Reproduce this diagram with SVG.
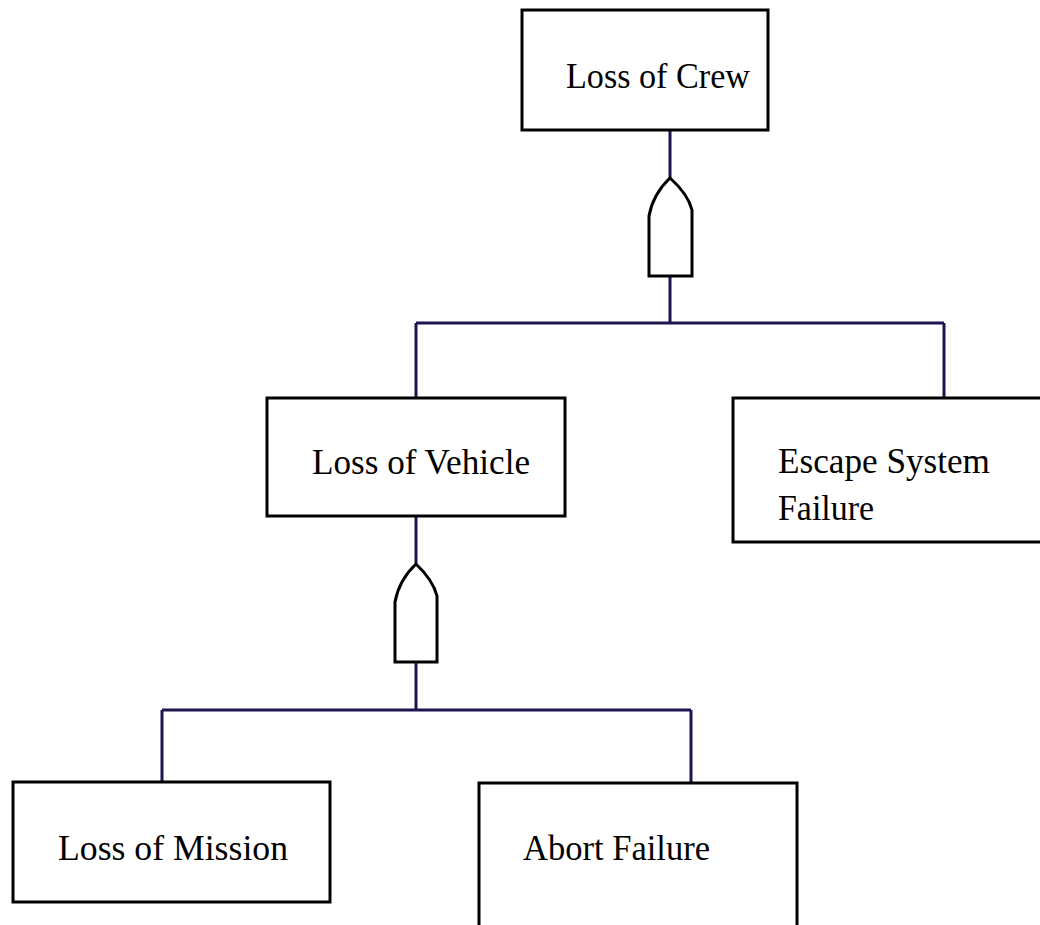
<svg xmlns="http://www.w3.org/2000/svg" width="1040" height="925" viewBox="0 0 1040 925">
  <style>
    .box { fill: #ffffff; stroke: #000000; stroke-width: 3; }
    .gate { fill: #ffffff; stroke: #000000; stroke-width: 3; stroke-linejoin: miter; }
    .wire { fill: none; stroke: #1c1650; stroke-width: 3; }
    .lbl { font-family: "Liberation Serif", "Times New Roman", serif; font-size: 35px; fill: #000000; }
  </style>
  <rect width="1040" height="925" fill="#ffffff"/>

  <!-- connectors -->
  <g id="connectors">
    <path class="wire" d="M670,130 V178"/>
    <path class="wire" d="M670,276 V323"/>
    <path class="wire" d="M416,323 H944"/>
    <path class="wire" d="M416,323 V398"/>
    <path class="wire" d="M944,323 V398"/>
    <path class="wire" d="M416,516 V563"/>
    <path class="wire" d="M416,662 V710"/>
    <path class="wire" d="M162,710 H691"/>
    <path class="wire" d="M162,710 V782"/>
    <path class="wire" d="M691,710 V783"/>
  </g>

  <!-- OR gates -->
  <g id="gate-crew">
    <path class="gate" d="M649,276 V216 Q653,194 670,178 Q688,194 692,210 V276 Z"/>
  </g>
  <g id="gate-vehicle">
    <path class="gate" d="M395,662 V602 Q399,580 416,564 Q433,580 437,596 V662 Z"/>
  </g>

  <g id="node-loss-of-crew">
    <rect class="box" x="522" y="10" width="246" height="120"/>
    <text class="lbl" x="566" y="88" textLength="184" lengthAdjust="spacingAndGlyphs">Loss of Crew</text>
  </g>

  <g id="node-loss-of-vehicle">
    <rect class="box" x="267" y="398" width="298" height="118"/>
    <text class="lbl" x="312" y="474" textLength="218" lengthAdjust="spacingAndGlyphs">Loss of Vehicle</text>
  </g>

  <g id="node-escape-system-failure">
    <rect class="box" x="733" y="398" width="320" height="144"/>
    <text class="lbl" x="778" y="473" textLength="212" lengthAdjust="spacingAndGlyphs">Escape System</text>
    <text class="lbl" x="778" y="520" textLength="96" lengthAdjust="spacingAndGlyphs">Failure</text>
  </g>

  <g id="node-loss-of-mission">
    <rect class="box" x="13" y="782" width="317" height="120"/>
    <text class="lbl" x="58" y="860" textLength="230" lengthAdjust="spacingAndGlyphs">Loss of Mission</text>
  </g>

  <g id="node-abort-failure">
    <rect class="box" x="479" y="783" width="318" height="160"/>
    <text class="lbl" x="523" y="860" textLength="187" lengthAdjust="spacingAndGlyphs">Abort Failure</text>
  </g>
</svg>
